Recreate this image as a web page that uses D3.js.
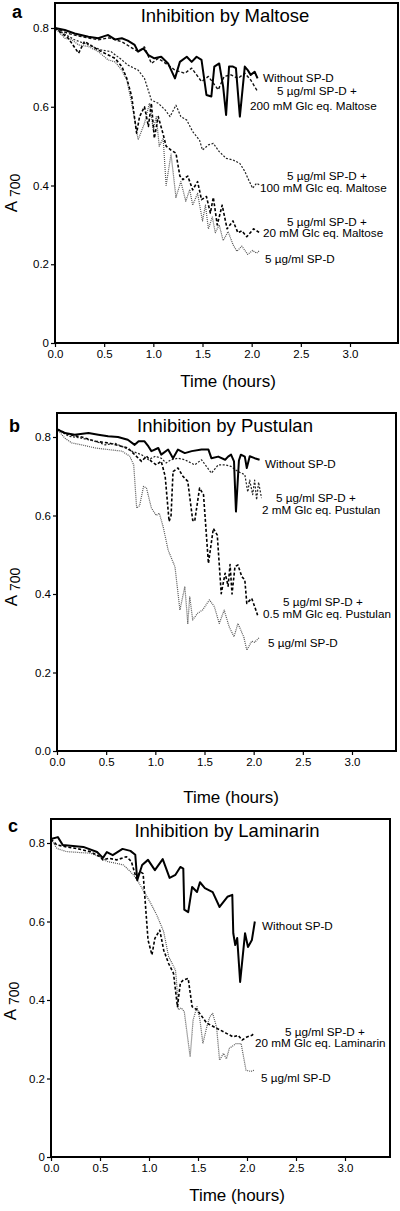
<!DOCTYPE html>
<html><head><meta charset="utf-8">
<script src="https://cdn.jsdelivr.net/npm/d3@7"></script>
<style>body{margin:0;background:#fff}svg{display:block}text{font-family:"Liberation Sans",Arial,sans-serif;fill:#000}</style>
</head><body>
<script>
// ---------- data ----------
const xTicks = [0, 0.5, 1.0, 1.5, 2.0, 2.5, 3.0];
const yTicks = [0, 0.2, 0.4, 0.6, 0.8];
const yTickLabelsA = ["0", "0.2", "0.4", "0.6", "0.8"];
const yTickLabelsB = ["0.0", "0.2", "0.4", "0.6", "0.8"];
const yTickLabelsC = ["0", "0.2", "0.4", "0.6", "0.8"];
const titles = ["Inhibition by Maltose", "Inhibition by Pustulan", "Inhibition by Laminarin"];

const maltoseWithout = [[0,0.80],[0.10,0.795],[0.20,0.786],[0.34,0.778],[0.44,0.774],[0.51,0.78],[0.54,0.782],[0.61,0.771],[0.68,0.774],[0.74,0.768],[0.81,0.757],[0.845,0.74],[0.90,0.748],[0.95,0.731],[1.01,0.723],[1.08,0.727],[1.15,0.71],[1.22,0.672],[1.27,0.714],[1.34,0.727],[1.39,0.714],[1.44,0.727],[1.49,0.719],[1.54,0.63],[1.59,0.626],[1.62,0.702],[1.67,0.71],[1.71,0.651],[1.74,0.579],[1.77,0.702],[1.81,0.702],[1.84,0.698],[1.88,0.575],[1.93,0.702],[1.96,0.693],[1.99,0.681],[2.03,0.689],[2.06,0.672]];
const maltose200 = [[0,0.80],[0.135,0.786],[0.27,0.778],[0.44,0.77],[0.55,0.775],[0.68,0.765],[0.845,0.74],[0.91,0.752],[0.98,0.71],[1.05,0.723],[1.15,0.706],[1.22,0.693],[1.32,0.685],[1.39,0.698],[1.49,0.664],[1.56,0.677],[1.66,0.643],[1.72,0.677],[1.79,0.681],[1.86,0.672],[1.93,0.685],[1.99,0.668],[2.06,0.639]];
const maltose100 = [[0,0.80],[0.10,0.784],[0.20,0.77],[0.34,0.757],[0.47,0.744],[0.57,0.74],[0.68,0.719],[0.74,0.706],[0.845,0.693],[0.91,0.672],[0.98,0.617],[1.05,0.609],[1.12,0.592],[1.17,0.575],[1.23,0.604],[1.28,0.575],[1.34,0.566],[1.40,0.537],[1.47,0.515],[1.50,0.49],[1.56,0.503],[1.61,0.507],[1.67,0.486],[1.74,0.469],[1.81,0.465],[1.88,0.456],[1.93,0.436],[1.96,0.419],[2.01,0.393],[2.05,0.406],[2.08,0.401]];
const maltose20 = [[0,0.80],[0.135,0.774],[0.24,0.736],[0.30,0.766],[0.44,0.744],[0.61,0.723],[0.68,0.702],[0.73,0.672],[0.78,0.626],[0.83,0.533],[0.86,0.575],[0.91,0.60],[0.95,0.55],[0.98,0.609],[1.01,0.52],[1.05,0.575],[1.10,0.53],[1.13,0.50],[1.18,0.49],[1.23,0.482],[1.27,0.424],[1.30,0.415],[1.35,0.424],[1.40,0.389],[1.45,0.41],[1.49,0.364],[1.54,0.372],[1.58,0.33],[1.61,0.37],[1.65,0.30],[1.70,0.35],[1.75,0.29],[1.81,0.31],[1.86,0.28],[1.90,0.285],[1.95,0.27],[2.02,0.29],[2.08,0.28]];
const maltose5 = [[0,0.80],[0.10,0.774],[0.17,0.77],[0.24,0.757],[0.34,0.753],[0.44,0.74],[0.54,0.719],[0.61,0.714],[0.68,0.693],[0.73,0.668],[0.78,0.609],[0.81,0.567],[0.845,0.516],[0.91,0.558],[0.96,0.609],[1.00,0.541],[1.03,0.575],[1.06,0.50],[1.10,0.52],[1.13,0.40],[1.18,0.48],[1.23,0.37],[1.28,0.41],[1.33,0.36],[1.37,0.39],[1.40,0.35],[1.45,0.38],[1.50,0.31],[1.53,0.35],[1.56,0.29],[1.60,0.32],[1.63,0.28],[1.67,0.30],[1.71,0.26],[1.76,0.283],[1.81,0.25],[1.85,0.233],[1.90,0.246],[1.96,0.225],[2.01,0.235],[2.05,0.228],[2.08,0.235]];

const pustulanWithout = [[0,0.82],[0.08,0.81],[0.18,0.806],[0.32,0.81],[0.42,0.806],[0.52,0.802],[0.62,0.80],[0.72,0.793],[0.79,0.78],[0.83,0.789],[0.89,0.789],[0.93,0.776],[0.96,0.764],[1.03,0.772],[1.06,0.755],[1.13,0.768],[1.18,0.746],[1.23,0.768],[1.30,0.759],[1.37,0.764],[1.47,0.768],[1.54,0.768],[1.57,0.746],[1.64,0.75],[1.71,0.742],[1.74,0.75],[1.77,0.755],[1.80,0.738],[1.82,0.61],[1.85,0.74],[1.87,0.755],[1.91,0.75],[1.93,0.721],[1.96,0.751],[2.01,0.746],[2.06,0.742]];
const pustulan2 = [[0,0.82],[0.12,0.802],[0.25,0.797],[0.39,0.789],[0.49,0.78],[0.59,0.784],[0.66,0.776],[0.76,0.764],[0.86,0.755],[0.93,0.742],[1.00,0.751],[1.06,0.746],[1.11,0.734],[1.16,0.742],[1.23,0.746],[1.30,0.742],[1.40,0.729],[1.47,0.742],[1.57,0.708],[1.64,0.729],[1.71,0.729],[1.77,0.725],[1.84,0.712],[1.91,0.704],[1.94,0.66],[1.96,0.69],[1.99,0.653],[2.01,0.69],[2.03,0.64],[2.05,0.685],[2.08,0.644]];
const pustulan05 = [[0,0.82],[0.12,0.806],[0.25,0.80],[0.39,0.789],[0.52,0.785],[0.66,0.776],[0.72,0.772],[0.79,0.755],[0.86,0.738],[0.91,0.751],[0.96,0.738],[1.01,0.729],[1.06,0.738],[1.10,0.70],[1.14,0.585],[1.16,0.60],[1.18,0.712],[1.23,0.721],[1.28,0.70],[1.33,0.687],[1.38,0.588],[1.40,0.585],[1.45,0.67],[1.49,0.653],[1.54,0.478],[1.59,0.567],[1.63,0.55],[1.67,0.401],[1.71,0.453],[1.74,0.42],[1.76,0.475],[1.78,0.40],[1.81,0.47],[1.84,0.474],[1.88,0.444],[1.91,0.436],[1.93,0.376],[1.98,0.389],[2.01,0.368],[2.04,0.346]];
const pustulan5 = [[0,0.82],[0.08,0.797],[0.15,0.785],[0.25,0.78],[0.39,0.772],[0.52,0.768],[0.66,0.764],[0.74,0.751],[0.78,0.729],[0.81,0.619],[0.84,0.625],[0.88,0.674],[0.91,0.67],[0.96,0.619],[1.01,0.60],[1.04,0.606],[1.08,0.571],[1.13,0.512],[1.20,0.469],[1.25,0.359],[1.30,0.419],[1.33,0.325],[1.35,0.393],[1.38,0.334],[1.43,0.351],[1.48,0.359],[1.55,0.385],[1.60,0.368],[1.65,0.325],[1.70,0.359],[1.75,0.317],[1.80,0.291],[1.84,0.325],[1.90,0.29],[1.93,0.257],[1.98,0.28],[2.01,0.277],[2.06,0.29]];

const laminarinWithout = [[0,0.81],[0.07,0.815],[0.12,0.795],[0.33,0.79],[0.47,0.777],[0.53,0.762],[0.57,0.777],[0.63,0.769],[0.73,0.785],[0.81,0.78],[0.86,0.77],[0.88,0.705],[0.93,0.744],[0.99,0.757],[1.06,0.731],[1.14,0.759],[1.21,0.711],[1.27,0.719],[1.32,0.739],[1.35,0.735],[1.36,0.63],[1.40,0.624],[1.44,0.688],[1.49,0.675],[1.52,0.70],[1.57,0.685],[1.65,0.675],[1.72,0.637],[1.80,0.663],[1.85,0.668],[1.86,0.57],[1.88,0.54],[1.90,0.558],[1.93,0.446],[1.98,0.57],[2.01,0.535],[2.05,0.553],[2.08,0.60]];
const laminarin20 = [[0,0.81],[0.06,0.795],[0.16,0.79],[0.26,0.786],[0.40,0.778],[0.50,0.765],[0.53,0.757],[0.59,0.761],[0.67,0.757],[0.77,0.765],[0.82,0.753],[0.87,0.71],[0.91,0.727],[0.94,0.722],[0.96,0.655],[0.99,0.553],[1.03,0.515],[1.06,0.557],[1.11,0.578],[1.15,0.527],[1.20,0.493],[1.25,0.468],[1.29,0.383],[1.32,0.443],[1.35,0.451],[1.40,0.455],[1.44,0.383],[1.49,0.375],[1.59,0.341],[1.66,0.332],[1.73,0.323],[1.79,0.315],[1.86,0.306],[1.91,0.31],[1.95,0.298],[2.00,0.306],[2.05,0.31],[2.07,0.315]];
const laminarin5 = [[0,0.81],[0.06,0.786],[0.16,0.778],[0.40,0.774],[0.50,0.765],[0.57,0.753],[0.67,0.748],[0.74,0.744],[0.81,0.727],[0.87,0.71],[0.94,0.68],[1.01,0.65],[1.08,0.616],[1.15,0.574],[1.20,0.511],[1.27,0.476],[1.28,0.45],[1.30,0.375],[1.33,0.38],[1.36,0.37],[1.42,0.255],[1.45,0.349],[1.49,0.383],[1.52,0.349],[1.55,0.289],[1.59,0.332],[1.62,0.357],[1.65,0.366],[1.69,0.33],[1.72,0.247],[1.76,0.264],[1.79,0.25],[1.82,0.277],[1.89,0.289],[1.94,0.289],[1.99,0.221],[2.04,0.218],[2.08,0.222]];

// ---------- styles ----------
const styles = {
  without: {stroke:"#000", width:2.0, dash:null},
  dashA:   {stroke:"#111", width:1.4, dash:"3,2"},
  dashFine:{stroke:"#222", width:1.2, dash:"2,1.6"},
  dashB:   {stroke:"#000", width:1.6, dash:"3,2"},
  dotted:  {stroke:"#555", width:1.2, dash:"1,1"}
};

// ---------- layout ----------
const panels = [
  {letter:"a", title:titles[0], left:55, top:3, right:398, bottom:343, x3:350, y8:28, yLabels:yTickLabelsA,
   titleX:225, titleY:22, letterX:12, letterY:18, yTitleX:17, yTitleY:193, xTitleX:228, xTitleY:387,
   series:[[maltose5,"dotted"],[maltose20,"dashB"],[maltose100,"dashFine"],[maltose200,"dashA"],[maltoseWithout,"without"]],
   labels:[["Without SP-D",263,82],["5 µg/ml SP-D +",277,95],["200 mM Glc eq. Maltose",250,110],
           ["5 µg/ml SP-D +",287,180],["100 mM Glc eq. Maltose",260,192],
           ["5 µg/ml SP-D +",287,226],["20 mM Glc eq. Maltose",263,237],["5 µg/ml SP-D",265,263]]},
  {letter:"b", title:titles[1], left:57, top:413, right:396, bottom:751, x3:352, y8:437, yLabels:yTickLabelsB,
   titleX:225, titleY:432, letterX:9, letterY:432, yTitleX:17, yTitleY:587, xTitleX:231, xTitleY:803,
   series:[[pustulan5,"dotted"],[pustulan05,"dashB"],[pustulan2,"dashFine"],[pustulanWithout,"without"]],
   labels:[["Without SP-D",265,468],["5 µg/ml SP-D +",276,502],["2 mM Glc eq. Pustulan",262,514],
           ["5 µg/ml SP-D +",283,606],["0.5 mM Glc eq. Pustulan",263,618],["5 µg/ml SP-D",268,647]]},
  {letter:"c", title:titles[2], left:51, top:819, right:390, bottom:1157, x3:345, y8:843, yLabels:yTickLabelsC,
   titleX:227, titleY:837, letterX:8, letterY:832, yTitleX:16, yTitleY:1001, xTitleX:237, xTitleY:1201,
   series:[[laminarin5,"dotted"],[laminarin20,"dashB"],[laminarinWithout,"without"]],
   labels:[["Without SP-D",262,930],["5 µg/ml SP-D +",285,1036],["20 mM Glc eq. Laminarin",255,1047],["5 µg/ml SP-D",261,1082]]}
];

const svg = d3.select("body").append("svg").attr("width",400).attr("height",1211);
svg.append("rect").attr("width",400).attr("height",1211).attr("fill","#fff");

panels.forEach(p => {
  const g = svg.append("g");
  const x = d3.scaleLinear().domain([0,3]).range([p.left, p.x3]);
  const y = d3.scaleLinear().domain([0,0.8]).range([p.bottom, p.y8]);

  // series
  const line = d3.line().x(d => x(d[0])).y(d => y(d[1]));
  p.series.forEach(([data, st]) => {
    const s = styles[st];
    g.append("path").attr("d", line(data)).attr("fill","none")
      .attr("stroke", s.stroke).attr("stroke-width", s.width)
      .attr("stroke-dasharray", s.dash).attr("stroke-linejoin","round");
  });

  // frame
  g.append("rect").attr("x",p.left).attr("y",p.top).attr("width",p.right-p.left).attr("height",p.bottom-p.top)
    .attr("fill","none").attr("stroke","#000").attr("stroke-width",2);

  // axes
  const ya = g.append("g").attr("transform",`translate(${p.left},0)`)
    .call(d3.axisLeft(y).tickValues(yTicks).tickSize(4).tickPadding(2).tickFormat((d,i)=>p.yLabels[i]));
  ya.select(".domain").remove();
  ya.selectAll("line").attr("stroke","#000").attr("stroke-width",1.2);
  ya.selectAll("text").attr("font-size",11.5).attr("font-family","Liberation Sans, Arial, sans-serif").attr("fill","#000");

  const xa = g.append("g").attr("transform",`translate(0,${p.bottom})`)
    .call(d3.axisBottom(x).tickValues(xTicks).tickSize(4).tickPadding(3).tickFormat(d3.format(".1f")));
  xa.select(".domain").remove();
  xa.selectAll("line").attr("stroke","#000").attr("stroke-width",1.2);
  xa.selectAll("text").attr("font-size",11.5).attr("font-family","Liberation Sans, Arial, sans-serif").attr("fill","#000");

  // titles
  g.append("text").attr("x",p.titleX).attr("y",p.titleY).attr("text-anchor","middle")
    .attr("font-size",18.5).text(p.title);
  g.append("text").attr("x",p.letterX).attr("y",p.letterY).attr("font-size",18).attr("font-weight","bold").text(p.letter);
  g.append("text").attr("x",p.xTitleX).attr("y",p.xTitleY).attr("text-anchor","middle")
    .attr("font-size",17).text("Time (hours)");
  const yt = g.append("text").attr("transform",`translate(${p.yTitleX},${p.yTitleY}) rotate(-90)`)
    .attr("text-anchor","middle").attr("font-size",17);
  yt.append("tspan").text("A ");
  yt.append("tspan").attr("font-size",14).attr("dy",3).text("700");

  // series labels
  p.labels.forEach(([t,lx,ly]) => {
    g.append("text").attr("x",lx).attr("y",ly).attr("font-size",11.7).text(t);
  });
});
</script>
</body></html>
